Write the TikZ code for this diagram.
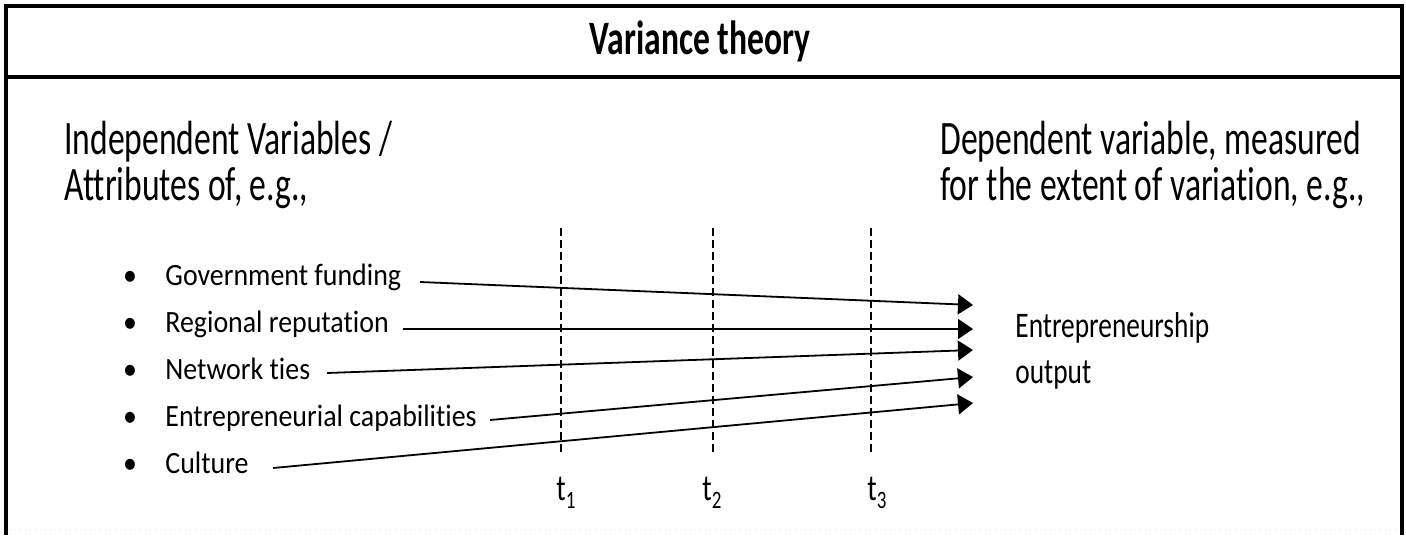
\documentclass[tikz,border=0pt]{standalone}
\usepackage{fontspec}
\setmainfont{Carlito}[FakeStretch=0.90, Ligatures=NoCommon]
\newfontfamily\condfont{Carlito}[FakeStretch=0.70, Ligatures=NoCommon]
\newfontfamily\midfont{Carlito}[FakeStretch=0.76, Ligatures=NoCommon]
\usetikzlibrary{arrows.meta}
\newcommand{\tsub}[1]{t\raisebox{-4pt}{\fontsize{12.5}{12.5}\selectfont #1}}
\begin{document}
\begin{tikzpicture}[x=0.5pt,y=-0.5pt,
  frame/.style={line width=2pt},
  titletext/.style={font=\condfont\bfseries\fontsize{24}{28}\selectfont, anchor=base, inner sep=0pt},
  head/.style={font=\condfont\fontsize{24}{23}\selectfont, anchor=base west, inner sep=0pt, align=left},
  item/.style={font=\fontsize{15.5}{20}\selectfont, anchor=base west, inner sep=0pt},
  bul/.style={font=\fontsize{15.5}{20}\selectfont, anchor=base, inner sep=0pt},
  outtext/.style={font=\midfont\fontsize{18}{23}\selectfont, anchor=base west, inner sep=0pt, align=left},
  tlab/.style={font=\midfont\fontsize{18.5}{22}\selectfont, anchor=base west, inner sep=0pt},
  tline/.style={dash pattern=on 4pt off 2pt, line width=0.6pt},
  arr/.style={line width=0.9pt, -{Triangle[length=7.5pt,width=10pt]}}]
\useasboundingbox (0,0) rectangle (1406,535);
% frame
\coordinate (bl) at (5.5,535);
\coordinate (tl) at (5.5,6);
\coordinate (tr) at (1401.5,6);
\coordinate (br) at (1401.5,535);
\coordinate (sl) at (5.5,77);
\coordinate (sr) at (1401.5,77);
\draw[frame] (bl) -- (tl) -- (tr) -- (br);
\draw[frame] (sl) -- (sr);
\coordinate (fl) at (10,529);
\coordinate (fr) at (1397,529);
\draw[gray!25, dotted, line width=0.5pt] (fl) -- (fr);
% title
\node[titletext] (title) at (700,55) {Variance theory};
% headings (base anchor = baseline of last line)
\node[head] (indep) at (64,200) {Independent Variables /\\Attributes of, e.g.,};
\node[head] (dep) at (940,200) {Dependent variable, measured\\for the extent of variation, e.g.,};
% items
\node[bul] (b1) at (130,285) {\textbullet};
\node[bul] (b2) at (130,332) {\textbullet};
\node[bul] (b3) at (130,379) {\textbullet};
\node[bul] (b4) at (130,426) {\textbullet};
\node[bul] (b5) at (130,473) {\textbullet};
\node[item] (gov) at (165,285) {Government funding};
\node[item] (reg) at (165,332) {Regional reputation};
\node[item] (net) at (165,379) {Network ties};
\node[item] (cap) at (165,426) {Entrepreneurial capabilities};
\node[item] (cul) at (165,473) {Culture};
% outcome
\node[outtext] (out) at (1015,383) {Entrepreneurship\\output};
% time lines
\coordinate (t1a) at (561,228); \coordinate (t1b) at (561,453);
\coordinate (t2a) at (713,228); \coordinate (t2b) at (713,453);
\coordinate (t3a) at (871,228); \coordinate (t3b) at (871,453);
\draw[tline] (t1a) -- (t1b);
\draw[tline] (t2a) -- (t2b);
\draw[tline] (t3a) -- (t3b);
\node[tlab] (l1) at (556,500) {\tsub{1}};
\node[tlab] (l2) at (702,500) {\tsub{2}};
\node[tlab] (l3) at (867,500) {\tsub{3}};
% arrows
\coordinate (s1) at (420,282); \coordinate (e1) at (973,305);
\coordinate (s2) at (403,329); \coordinate (e2) at (973,329);
\coordinate (s3) at (327,373); \coordinate (e3) at (973,350);
\coordinate (s4) at (490,420); \coordinate (e4) at (973,377);
\coordinate (s5) at (273,468); \coordinate (e5) at (973,403);
\draw[arr] (s1) -- (e1);
\draw[arr] (s2) -- (e2);
\draw[arr] (s3) -- (e3);
\draw[arr] (s4) -- (e4);
\draw[arr] (s5) -- (e5);
\end{tikzpicture}
\end{document}
